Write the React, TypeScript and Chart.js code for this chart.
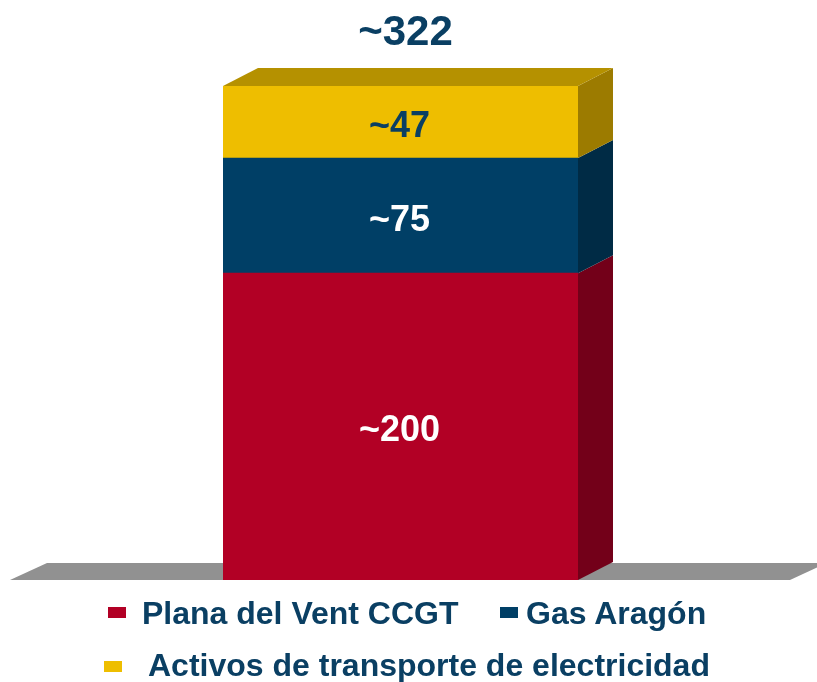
import React, { useEffect, useRef } from "react";
import { Chart, registerables } from "chart.js";

Chart.register(...registerables);

const categories = [""];
const seriesNames = ["Plana del Vent CCGT", "Gas Aragón", "Activos de transporte de electricidad"];
const plana = [200];
const gas = [75];
const activos = [47];
const segmentLabels = ["~200", "~75", "~47"];
const totalLabel = "~322";
const totalValue = [322];

const FRONT = ["#B20025", "#003F66", "#EEBE00"];
const SIDE = ["#730019", "#002B45", "#9C7B00"];
const TOP = "#B59100";
const LABEL_COLORS = ["#FFFFFF", "#FFFFFF", "#0A3F63"];
const TEXT = "#0A3F63";
const DX = 35;
const DY = 18;

const threeD = {
  id: "threeD",
  beforeDatasetsDraw(chart: any) {
    const ctx = chart.ctx;
    const y0 = chart.scales.y.getPixelForValue(0);
    ctx.save();
    ctx.fillStyle = "#919191";
    ctx.beginPath();
    ctx.moveTo(10, y0);
    ctx.lineTo(10 + 780, y0);
    ctx.lineTo(10 + 780 + DX + 2, y0 - DY + 1);
    ctx.lineTo(817, y0 - DY + 1);
    ctx.lineTo(10 + DX + 2, y0 - DY + 1);
    ctx.closePath();
    ctx.fill();
    ctx.restore();
  },
  afterDatasetsDraw(chart: any) {
    const ctx = chart.ctx;
    ctx.save();
    const n = chart.data.datasets.length;
    for (let i = 0; i < n; i++) {
      const el: any = chart.getDatasetMeta(i).data[0];
      const left = el.x - el.width / 2;
      const right = el.x + el.width / 2;
      const yTop = el.y;
      const yBot = el.base;
      ctx.fillStyle = SIDE[i];
      ctx.beginPath();
      ctx.moveTo(right, yBot);
      ctx.lineTo(right, yTop);
      ctx.lineTo(right + DX, yTop - DY);
      ctx.lineTo(right + DX, yBot - DY);
      ctx.closePath();
      ctx.fill();
      if (i === n - 1) {
        ctx.fillStyle = TOP;
        ctx.beginPath();
        ctx.moveTo(left, yTop);
        ctx.lineTo(left + DX, yTop - DY);
        ctx.lineTo(right + DX, yTop - DY);
        ctx.lineTo(right, yTop);
        ctx.closePath();
        ctx.fill();
      }
    }
    ctx.textAlign = "center";
    ctx.textBaseline = "alphabetic";
    for (let i = 0; i < n; i++) {
      const el: any = chart.getDatasetMeta(i).data[0];
      const mid = (el.y + el.base) / 2;
      const size = 36;
      ctx.font = `bold ${size}px "Liberation Sans", Arial, sans-serif`;
      ctx.fillStyle = LABEL_COLORS[i];
      ctx.fillText(segmentLabels[i], el.x - 1, mid + 0.358 * size + 2);
    }
    const topEl: any = chart.getDatasetMeta(n - 1).data[0];
    const yT = chart.scales.y.getPixelForValue(totalValue[0]);
    ctx.font = `bold 42px "Liberation Sans", Arial, sans-serif`;
    ctx.fillStyle = TEXT;
    ctx.fillText(totalLabel, topEl.x + 5, yT - 41);
    ctx.restore();
  },
};

export default function App() {
  const ref = useRef<HTMLCanvasElement>(null);
  useEffect(() => {
    if (!ref.current) return;
    const chart = new Chart(ref.current, {
      type: "bar",
      data: {
        labels: categories,
        datasets: [
          { label: seriesNames[0], data: plana, backgroundColor: FRONT[0] },
          { label: seriesNames[1], data: gas, backgroundColor: FRONT[1] },
          { label: seriesNames[2], data: activos, backgroundColor: FRONT[2] },
        ],
      },
      options: {
        responsive: false,
        animation: false,
        layout: { padding: { top: 86, bottom: 102, left: 223, right: 239 } },
        datasets: { bar: { barPercentage: 1, categoryPercentage: 1, borderWidth: 0 } },
        scales: {
          x: { stacked: true, display: false },
          y: { stacked: true, display: false, min: 0, max: 322 },
        },
        plugins: { legend: { display: false }, tooltip: { enabled: false } },
      },
      plugins: [threeD],
    });
    return () => chart.destroy();
  }, []);

  const textStyle: React.CSSProperties = {
    position: "absolute",
    font: 'bold 32px "Liberation Sans", Arial, sans-serif',
    lineHeight: "32px",
    color: TEXT,
    whiteSpace: "nowrap",
  };
  const sq = (left: number, top: number, color: string): React.CSSProperties => ({
    position: "absolute",
    left,
    top,
    width: 18,
    height: 11,
    background: color,
  });

  return (
    <div style={{ position: "absolute", left: 0, top: 0, width: 817, height: 682, background: "#fff", overflow: "hidden" }}>
      <canvas ref={ref} width={817} height={682} style={{ position: "absolute", left: 0, top: 0 }} />
      <div style={sq(108, 607, FRONT[0])} />
      <div style={{ ...textStyle, left: 142, top: 597 }}>{seriesNames[0]}</div>
      <div style={sq(500, 607, FRONT[1])} />
      <div style={{ ...textStyle, left: 526, top: 597 }}>{seriesNames[1]}</div>
      <div style={sq(104, 661, FRONT[2])} />
      <div style={{ ...textStyle, left: 148, top: 649 }}>{seriesNames[2]}</div>
    </div>
  );
}
